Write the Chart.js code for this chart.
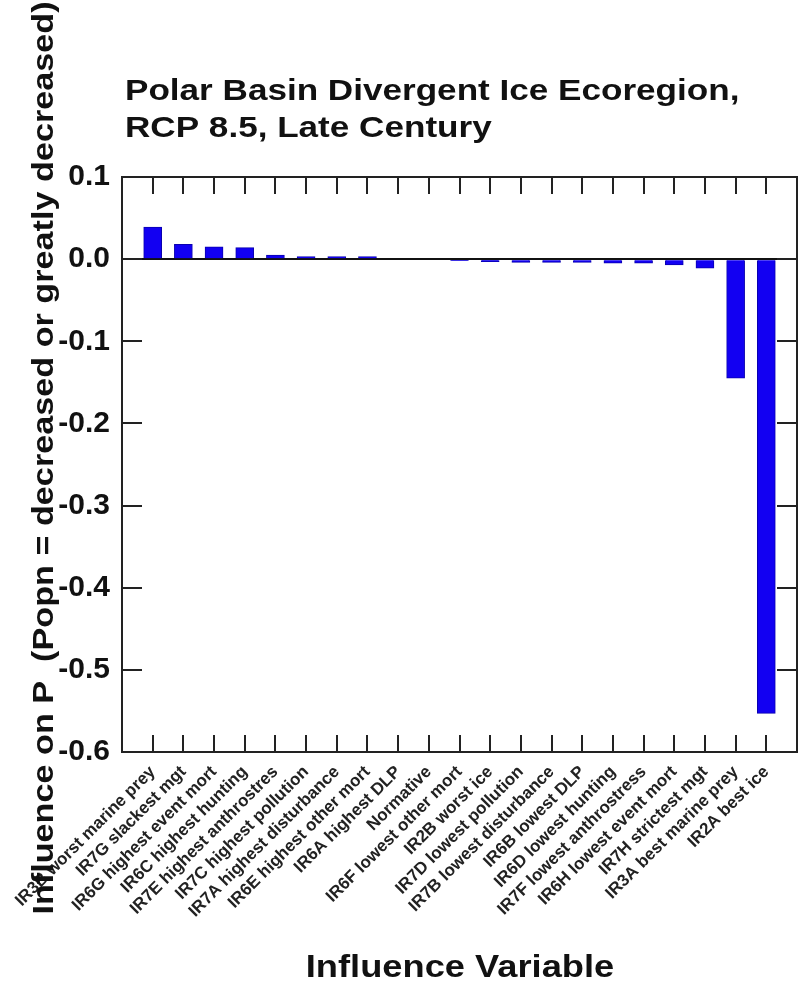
<!DOCTYPE html>
<html>
<head>
<meta charset="utf-8">
<script src="https://cdn.jsdelivr.net/npm/chart.js@4.4.1/dist/chart.umd.min.js"></script>
<style>
html,body{margin:0;padding:0;background:#fff;}
#wrap{width:803px;height:989px;position:relative;}
</style>
</head>
<body>
<div id="wrap"><canvas id="c" width="803" height="989"></canvas></div>
<script>
const titleLines = ["Polar Basin Divergent Ice Ecoregion,", "RCP 8.5, Late Century"];
const yAxisTitle = "Influence on P  (Popn = decreased or greatly decreased)";
const xAxisTitle = "Influence Variable";
const categories = [
  "IR3B worst marine prey", "IR7G slackest mgt", "IR6G highest event mort",
  "IR6C highest hunting", "IR7E highest anthrostres", "IR7C highest pollution",
  "IR7A highest disturbance", "IR6E highest other mort", "IR6A highest DLP",
  "Normative", "IR6F lowest other mort", "IR2B worst ice",
  "IR7D lowest pollution", "IR7B lowest disturbance", "IR6B lowest DLP",
  "IR6D lowest hunting", "IR7F lowest anthrostress", "IR6H lowest event mort",
  "IR7H strictest mgt", "IR3A best marine prey", "IR2A best ice"
];
const influence = [
  0.039, 0.018, 0.015, 0.014, 0.005, 0.003, 0.003, 0.003, 0.0, 0.0,
  -0.002, -0.003, -0.004, -0.004, -0.004, -0.005, -0.005, -0.007, -0.011,
  -0.145, -0.553
];
const yTicks = [0.1, 0.0, -0.1, -0.2, -0.3, -0.4, -0.5, -0.6];

// pad with an empty slot at each end so ticks sit one step inside the frame
const labels = [""].concat(categories, [""]);
const values = [null].concat(influence, [null]);

const FONT = '"Liberation Sans", Arial, sans-serif';

function wideText(ctx, text, x, y, sx) {
  ctx.save();
  ctx.translate(x, y);
  ctx.scale(sx, 1);
  ctx.fillText(text, 0, 0);
  ctx.restore();
}

const frame = {
  id: 'frame',
  afterDraw(chart) {
    const {ctx, chartArea: a, scales: {x, y}} = chart;
    ctx.save();
    ctx.strokeStyle = '#222';
    ctx.lineWidth = 2;
    ctx.beginPath();
    for (let i = 1; i <= categories.length; i++) {
      const px = Math.round(x.getPixelForValue(i));
      ctx.moveTo(px, a.top); ctx.lineTo(px, a.top + 17);
      ctx.moveTo(px, a.bottom); ctx.lineTo(px, a.bottom - 17);
    }
    yTicks.forEach(v => {
      const py = Math.round(y.getPixelForValue(v));
      ctx.moveTo(a.left, py); ctx.lineTo(a.left + 20, py);
      ctx.moveTo(a.right, py); ctx.lineTo(a.right - 20, py);
    });
    ctx.stroke();
    ctx.strokeRect(a.left, a.top, a.right - a.left, a.bottom - a.top);
    // titles
    ctx.fillStyle = '#111';
    ctx.font = 'bold 30px ' + FONT;
    ctx.textAlign = 'left';
    ctx.textBaseline = 'alphabetic';
    wideText(ctx, titleLines[0], 125, 100, 1.17);
    wideText(ctx, titleLines[1], 125, 137, 1.17);
    ctx.font = 'bold 31px ' + FONT;
    ctx.textAlign = 'center';
    wideText(ctx, xAxisTitle, 460, 977, 1.17);
    ctx.translate(53, 458);
    ctx.rotate(-Math.PI / 2);
    ctx.font = 'bold 30px ' + FONT;
    wideText(ctx, yAxisTitle, 0, 0, 1.14);
    ctx.restore();
  }
};

new Chart(document.getElementById('c'), {
  type: 'bar',
  data: {
    labels: labels,
    datasets: [{
      data: values,
      backgroundColor: '#1200f2',
      borderColor: '#0a00b0',
      borderWidth: 1,
      barThickness: 18
    }]
  },
  options: {
    responsive: false,
    animation: false,
    layout: {padding: {top: 177, right: 6, left: 0, bottom: 0}},
    plugins: {legend: {display: false}, tooltip: {enabled: false}, title: {display: false}},
    scales: {
      x: {
        offset: false,
        grid: {display: false, drawTicks: false},
        border: {display: false},
        afterFit: s => { s.height = 237; s.paddingLeft = 0; s.paddingRight = 0; },
        ticks: {
          autoSkip: false, maxRotation: 45, minRotation: 45, padding: 10,
          color: '#222',
          font: {family: FONT, size: 17, weight: 'bold'}
        }
      },
      y: {
        min: -0.6, max: 0.1,
        afterFit: s => { s.width = 122; s.paddingTop = 0; s.paddingBottom = 0; },
        afterBuildTicks: s => { s.ticks = yTicks.map(v => ({value: v})); },
        border: {display: false},
        grid: {
          drawTicks: false,
          color: c => (c.tick && c.tick.value === 0) ? '#111' : 'rgba(0,0,0,0)',
          lineWidth: 2
        },
        ticks: {
          padding: 12, color: '#111',
          font: {family: FONT, size: 30, weight: 'bold'},
          callback: v => v.toFixed(1)
        }
      }
    }
  },
  plugins: [frame]
});
</script>
</body>
</html>
